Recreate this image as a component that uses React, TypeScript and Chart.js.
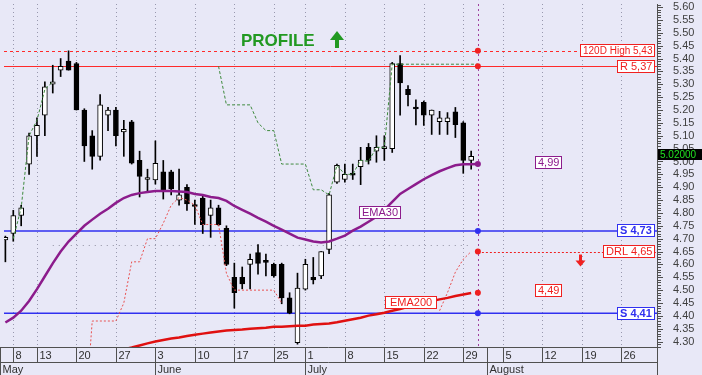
import React, { useEffect, useRef } from "react";
import { Chart, registerables } from "chart.js";
Chart.register(...registerables);

// ---------- DATA ----------
const tradingDays = [
  "05-07","05-08","05-09","05-12","05-13","05-14","05-15","05-16","05-19","05-20","05-21","05-22","05-23","05-26","05-27","05-28","05-29","05-30",
  "06-02","06-03","06-04","06-05","06-06","06-09","06-10","06-11","06-12","06-13","06-16","06-17","06-18","06-19","06-20","06-23","06-25","06-26","06-27","06-30",
  "07-01","07-02","07-03","07-04","07-07","07-08","07-09","07-10","07-11","07-14","07-15","07-16","07-17","07-18","07-21","07-22","07-23","07-24","07-25","07-28","07-29","07-30","07-31",
  "08-01","08-04","08-05","08-06","08-07","08-08","08-11","08-12","08-13","08-14","08-15","08-18","08-19","08-20","08-21","08-22","08-25","08-26","08-27","08-28","08-29"
];

const opens = [4.695,4.72,4.79,4.99,5.10,5.18,5.30,5.355,5.39,5.38,5.20,5.10,5.02,5.18,5.20,5.115,5.154,5.004,4.93,4.928,
  4.96,4.96,4.85,4.90,4.83,4.858,4.79,4.82,4.74,4.55,4.55,4.60,4.646,4.61,4.60,4.60,4.47,4.296,4.504,4.55,
  4.555,4.658,4.92,4.93,4.955,4.98,5.055,5.04,5.05,5.05,5.38,5.28,5.21,5.23,5.18,5.155,5.155,5.193,5.15,5.004];
const highs = [4.71,4.81,4.83,5.11,5.17,5.31,5.374,5.40,5.43,5.385,5.205,5.12,5.26,5.21,5.21,5.16,5.16,5.04,4.97,5.08,
  5.004,4.966,4.97,4.91,4.85,4.865,4.85,4.83,4.75,4.605,4.59,4.64,4.677,4.64,4.605,4.605,4.49,4.566,4.62,4.627,
  4.65,4.876,4.99,4.99,4.99,5.055,5.07,5.10,5.10,5.385,5.412,5.295,5.24,5.235,5.20,5.195,5.19,5.21,5.155,5.04];
const lows = [4.61,4.69,4.75,4.95,5.02,5.10,5.266,5.33,5.355,5.20,5.00,4.97,5.005,5.12,5.06,5.02,4.99,4.862,4.88,4.912,
  4.854,4.87,4.83,4.81,4.755,4.72,4.705,4.75,4.595,4.43,4.505,4.505,4.562,4.555,4.55,4.447,4.408,4.29,4.50,4.524,
  4.545,4.642,4.915,4.92,4.93,4.91,4.99,4.997,5.004,5.035,5.18,5.216,5.142,5.14,5.105,5.105,5.105,5.093,4.954,4.97];
const closes = [4.705,4.79,4.82,5.10,5.14,5.29,5.31,5.37,5.355,5.20,5.06,5.02,5.22,5.20,5.10,5.125,4.993,4.942,4.932,4.993,
  4.889,4.893,4.87,4.835,4.825,4.754,4.82,4.754,4.60,4.49,4.524,4.62,4.604,4.608,4.555,4.47,4.41,4.508,4.60,4.54,
  4.65,4.87,4.985,4.95,4.947,5.005,5.004,5.055,5.055,5.38,5.305,5.26,5.204,5.18,5.20,5.17,5.17,5.143,5.004,5.02];

const ema30 = [4.374,4.393,4.420,4.458,4.504,4.554,4.604,4.650,4.689,4.720,4.750,4.774,4.797,4.816,4.839,4.858,4.870,4.877,4.881,4.885,
  4.885,4.885,4.883,4.881,4.874,4.870,4.862,4.858,4.847,4.827,4.812,4.797,4.781,4.766,4.750,4.735,4.720,4.704,4.697,4.689,
  4.685,4.689,4.700,4.712,4.731,4.747,4.766,4.785,4.812,4.843,4.874,4.893,4.912,4.931,4.947,4.962,4.974,4.985,4.989,4.989];

const ema200 = [null,null,null,null,null,null,null,null,null,null,null,null,null,4.255,4.262,4.270,4.277,4.285,4.293,4.300,
  4.306,4.312,4.316,4.322,4.327,4.331,4.335,4.339,4.343,4.345,4.347,4.350,4.352,4.354,4.358,4.358,4.360,4.362,4.362,4.366,
  4.368,4.370,4.375,4.381,4.387,4.393,4.401,4.406,4.412,4.420,4.427,4.435,4.443,4.451,4.458,4.464,4.470,4.477,4.483,4.489];

const profileLine = [null,4.70,4.82,5.10,5.16,5.28,5.31,null,null,null,null,null,null,null,null,null,null,null,null,null,
  null,null,null,null,null,null,null,5.37,5.22,5.22,5.22,5.22,5.15,5.12,5.12,4.99,4.99,4.99,4.99,4.89,
  4.89,4.87,4.985,4.95,4.95,5.005,5.00,5.055,5.055,5.378,5.378,5.378,5.378,5.378,5.378,5.378,5.378,5.378,5.378,5.378];

const drlLine = [null,null,null,null,null,null,null,null,null,null,3.96,4.38,4.38,4.38,4.38,4.45,4.61,4.61,4.70,4.70,
  4.76,4.83,4.86,4.85,4.83,4.755,4.755,4.755,4.565,4.50,4.50,4.50,4.50,4.50,4.50,4.45,null,null,null,null,
  null,null,null,null,null,null,null,null,null,null,null,null,null,null,null,4.42,4.49,4.57,4.62,4.65];

const xTickDates = ["05-08","05-13","05-20","05-27","06-03","06-10","06-17","06-25","07-01","07-08","07-15","07-22","07-29","08-05","08-12","08-19","08-26"];
const monthNames = ["May","June","July","August"];
const monthStartDates = ["05-07","06-03","07-01","08-01"];
const yTickValues = [4.30,4.35,4.40,4.45,4.50,4.55,4.60,4.65,4.70,4.75,4.80,4.85,4.90,4.95,5.00,5.05,5.10,5.15,5.20,5.25,5.30,5.35,5.40,5.45,5.50,5.55,5.60];

const levelNames = ["120D High","R","S","S"];
const levelValues = [5.43,5.37,4.73,4.41];
const drlValue = 4.65;
const ema30Last = 4.99;
const ema200Last = 4.49;
const lastPrice = 5.02;
const oldSupport = 4.675;

// ---------- STYLE ----------
const BG = "#E8E8F7";
const RED = "#F02020";
const BLUE = "#3030F0";
const PURPLE = "#8C1C8C";
const GREEN = "#3E8A3E";
const FONT = "Liberation Sans, Arial, sans-serif";
const Y_MIN = 4.279, Y_MAX = 5.612;
const X_MIN = -0.176, X_MAX = 82.54;
const markerX = closes.length - 1 + 0.85;

const fmt = (v: number) => v.toFixed(2).replace(".", ",");

function box(ctx: CanvasRenderingContext2D, text: string, x: number, cy: number, color: string, align: "right" | "center", bold = false, size = 11, pad = 3) {
  ctx.font = `${bold ? "bold " : ""}${size}px ${FONT}`;
  const w = Math.round(ctx.measureText(text).width) + pad * 2;
  const h = 13;
  const left = align === "right" ? Math.round(x - w) : Math.round(x - w / 2);
  const top = Math.round(cy - h / 2);
  ctx.fillStyle = "#FFFFFF";
  ctx.fillRect(left, top, w, h);
  ctx.strokeStyle = color;
  ctx.lineWidth = 1;
  ctx.setLineDash([]);
  ctx.strokeRect(left + 0.5, top + 0.5, w - 1, h - 1);
  ctx.fillStyle = color;
  ctx.textAlign = "left";
  ctx.textBaseline = "middle";
  ctx.fillText(text, left + pad, top + h / 2 + 0.5);
}

const decor = {
  id: "decor",
  beforeDraw(chart: any) {
    const { ctx, chartArea: ca, scales } = chart;
    const x = scales.x;
    ctx.save();
    ctx.fillStyle = BG;
    ctx.fillRect(0, 0, chart.width, chart.height);
    ctx.strokeStyle = "#9898AE";
    ctx.lineWidth = 1;
    ctx.setLineDash([1, 3]);
    xTickDates.forEach((d) => {
      const px = Math.round(x.getPixelForValue(tradingDays.indexOf(d))) + 0.5;
      ctx.beginPath();
      ctx.moveTo(px, ca.top);
      ctx.lineTo(px, ca.bottom);
      ctx.stroke();
    });
    ctx.restore();
  },
  beforeDatasetsDraw(chart: any) {
    const { ctx, chartArea: ca, scales } = chart;
    const x = scales.x, y = scales.y;
    ctx.save();
    ctx.beginPath();
    ctx.rect(ca.left, ca.top, ca.right - ca.left, ca.bottom - ca.top);
    ctx.clip();
    // old support dotted gray
    ctx.strokeStyle = "#9090A0";
    ctx.setLineDash([1, 5]);
    ctx.lineWidth = 1;
    let py = Math.round(y.getPixelForValue(oldSupport)) + 0.5;
    ctx.beginPath();
    ctx.moveTo(x.getPixelForValue(6), py);
    ctx.lineTo(x.getPixelForValue(closes.length - 1), py);
    ctx.stroke();
    // levels
    levelValues.forEach((v, i) => {
      const isRed = i < 2;
      const p = isRed ? Math.round(y.getPixelForValue(v)) + 0.5 : y.getPixelForValue(v);
      ctx.strokeStyle = isRed ? "#FF2A2A" : BLUE;
      ctx.lineWidth = isRed ? 1 : 1.5;
      ctx.setLineDash(i === 0 ? [3, 3] : []);
      ctx.beginPath();
      ctx.moveTo(ca.left, p);
      ctx.lineTo(ca.right, p);
      ctx.stroke();
    });
    // DRL horizontal
    ctx.lineWidth = 1;
    py = Math.round(y.getPixelForValue(drlValue)) + 0.5;
    ctx.strokeStyle = RED;
    ctx.setLineDash([2, 2]);
    ctx.beginPath();
    ctx.moveTo(x.getPixelForValue(markerX), py);
    ctx.lineTo(ca.right, py);
    ctx.stroke();
    // marker vertical
    const mx = Math.round(x.getPixelForValue(markerX)) + 0.5;
    ctx.strokeStyle = "#A040A0";
    ctx.setLineDash([2, 3]);
    ctx.beginPath();
    ctx.moveTo(mx, ca.top);
    ctx.lineTo(mx, ca.bottom);
    ctx.stroke();
    ctx.restore();
  },
  afterDraw(chart: any) {
    const { ctx, chartArea: ca, scales } = chart;
    const x = scales.x, y = scales.y;
    ctx.save();
    // ---- right axis ----
    ctx.strokeStyle = "#505050";
    ctx.lineWidth = 1;
    ctx.setLineDash([]);
    ctx.beginPath();
    ctx.moveTo(ca.right + 0.5, ca.top);
    ctx.lineTo(ca.right + 0.5, ca.bottom);
    ctx.stroke();
    for (let k = Math.ceil(Y_MIN * 100); k <= Math.floor(Y_MAX * 100); k++) {
      const p = Math.round(y.getPixelForValue(k / 100)) + 0.5;
      const len = k % 5 === 0 ? 6 : 4;
      ctx.beginPath();
      ctx.moveTo(ca.right, p);
      ctx.lineTo(ca.right + len, p);
      ctx.stroke();
    }
    ctx.fillStyle = "#404040";
    ctx.font = `11px ${FONT}`;
    ctx.textAlign = "left";
    ctx.textBaseline = "middle";
    yTickValues.forEach((v) => {
      ctx.fillText(v.toFixed(2), ca.right + 16, y.getPixelForValue(v));
    });
    // last price box
    const lp = y.getPixelForValue(lastPrice);
    ctx.fillStyle = "#000000";
    ctx.fillRect(ca.right + 1, Math.round(lp - 7), chart.width - ca.right - 1, 11);
    ctx.fillStyle = "#20E020";
    ctx.font = `10px ${FONT}`;
    ctx.fillText(lastPrice.toFixed(5), ca.right + 3, lp - 1);

    // ---- bottom axis ----
    const top = ca.bottom, mid = ca.bottom + 15, bot = chart.height;
    ctx.strokeStyle = "#505050";
    ctx.beginPath();
    ctx.moveTo(0, top + 0.5); ctx.lineTo(ca.right, top + 0.5);
    ctx.moveTo(0, mid + 0.5); ctx.lineTo(ca.right, mid + 0.5);
    ctx.moveTo(0.5, top); ctx.lineTo(0.5, bot);
    ctx.moveTo(ca.right + 0.5, top); ctx.lineTo(ca.right + 0.5, bot);
    ctx.stroke();
    ctx.font = `11px ${FONT}`;
    ctx.fillStyle = "#303030";
    xTickDates.forEach((d) => {
      const px = Math.round(x.getPixelForValue(tradingDays.indexOf(d))) + 0.5;
      ctx.beginPath();
      ctx.moveTo(px, top); ctx.lineTo(px, mid);
      ctx.stroke();
      ctx.fillText(String(parseInt(d.slice(3), 10)), px + 2, (top + mid) / 2 + 1);
    });
    monthStartDates.forEach((d, mi) => {
      const i = tradingDays.indexOf(d);
      const px = i === 0 ? 0.5 : Math.round(x.getPixelForValue(i)) + 0.5;
      if (i !== 0) {
        ctx.beginPath();
        ctx.moveTo(px, top); ctx.lineTo(px, bot);
        ctx.stroke();
      }
      ctx.fillText(monthNames[mi], px + 2, (mid + bot) / 2 + 1);
    });

    // ---- labels ----
    levelValues.forEach((v, i) => {
      box(ctx, `${levelNames[i]} ${fmt(v)}`, ca.right - 2, y.getPixelForValue(v), i < 2 ? RED : BLUE, "right", i >= 2, i === 0 ? 10 : 11);
    });
    box(ctx, `DRL ${fmt(drlValue)}`, ca.right - 2, y.getPixelForValue(drlValue), RED, "right");
    box(ctx, fmt(ema30Last), x.getPixelForValue(markerX + 9), y.getPixelForValue(ema30Last) - 2, PURPLE, "center");
    box(ctx, fmt(ema200Last), x.getPixelForValue(markerX + 9), y.getPixelForValue(ema200Last) - 2, RED, "center");
    box(ctx, "EMA30", x.getPixelForValue(47.4), y.getPixelForValue(4.80), PURPLE, "center");
    box(ctx, "EMA200", x.getPixelForValue(51.4), y.getPixelForValue(4.45), RED, "center", false, 11, 5);

    // down arrow
    const ax = x.getPixelForValue(markerX + 13);
    const ay = y.getPixelForValue(drlValue) + 3;
    ctx.fillStyle = RED;
    ctx.fillRect(Math.round(ax - 1.5), ay, 3, 7);
    ctx.beginPath();
    ctx.moveTo(ax - 5, ay + 6); ctx.lineTo(ax + 5, ay + 6); ctx.lineTo(ax, ay + 12); ctx.closePath();
    ctx.fill();

    // PROFILE
    ctx.fillStyle = "#229922";
    ctx.font = `bold 17px ${FONT}`;
    ctx.textBaseline = "alphabetic";
    ctx.fillText("PROFILE", ca.left + 237, ca.top + 42);
    const ux = ca.left + 333;
    ctx.fillRect(ux - 2, ca.top + 34, 4, 10);
    ctx.beginPath();
    ctx.moveTo(ux - 7, ca.top + 36); ctx.lineTo(ux + 7, ca.top + 36); ctx.lineTo(ux, ca.top + 27); ctx.closePath();
    ctx.fill();
    ctx.restore();
  },
};

export default function App() {
  const ref = useRef<HTMLCanvasElement>(null);
  useEffect(() => {
    const canvas = ref.current!;
    const idx = closes.map((_, i) => i);
    const chart = new Chart(canvas, {
      type: "line",
      data: {
        datasets: [
          {
            type: "bar",
            data: idx.map((i) => ({ x: i, y: [lows[i], highs[i]] })) as any,
            backgroundColor: "#000000",
            borderWidth: 0,
            barThickness: 1,
            grouped: false,
            order: 10,
          } as any,
          {
            type: "bar",
            data: idx.map((i) => ({ x: i, y: [opens[i], closes[i]] })) as any,
            backgroundColor: idx.map((i) => (closes[i] >= opens[i] ? "#FFFFFF" : "#000000")),
            borderColor: "#000000",
            borderWidth: 1,
            borderSkipped: false,
            barThickness: 5,
            minBarLength: 2,
            grouped: false,
            order: 9,
          } as any,
          {
            data: drlLine.map((v, i) => ({ x: i, y: v })) as any,
            borderColor: "#E85050",
            borderWidth: 1,
            borderDash: [2, 2],
            pointRadius: 0,
            spanGaps: false,
            order: 6,
          },
          {
            data: profileLine.map((v, i) => ({ x: i, y: v })).concat([{ x: markerX, y: 5.378 }]) as any,
            borderColor: GREEN,
            borderWidth: 1,
            borderDash: [3, 2],
            pointRadius: 0,
            spanGaps: false,
            order: 6,
          },
          {
            data: ema200.map((v, i) => ({ x: i, y: v })) as any,
            borderColor: "#E01010",
            borderWidth: 2.5,
            pointRadius: 0,
            order: 5,
          },
          {
            data: ema30.map((v, i) => ({ x: i, y: v })).concat([{ x: markerX, y: ema30Last }]) as any,
            borderColor: PURPLE,
            borderWidth: 2.5,
            pointRadius: 0,
            order: 5,
          },
          {
            data: [levelValues[0], levelValues[1], ema30Last, levelValues[2], drlValue, ema200Last, levelValues[3]].map((v) => ({ x: markerX, y: v })) as any,
            showLine: false,
            pointRadius: 3,
            pointBorderWidth: 0,
            pointBackgroundColor: [RED, RED, PURPLE, BLUE, RED, RED, BLUE],
            order: 1,
          },
        ],
      },
      options: {
        responsive: false,
        animation: false,
        events: [],
        layout: { padding: 0 },
        plugins: { legend: { display: false }, tooltip: { enabled: false } },
        scales: {
          x: {
            type: "linear",
            min: X_MIN,
            max: X_MAX,
            offset: false,
            grid: { display: false },
            border: { display: false },
            ticks: { display: false },
            afterFit: (s: any) => { s.height = 28; },
          },
          y: {
            type: "linear",
            position: "right",
            min: Y_MIN,
            max: Y_MAX,
            grid: { display: false },
            border: { display: false },
            ticks: { display: false },
            afterFit: (s: any) => { s.width = 45; },
          },
        },
      },
      plugins: [decor],
    } as any);
    return () => chart.destroy();
  }, []);
  return (
    <div style={{ position: "absolute", left: 0, top: 0, width: 702, height: 375 }}>
      <canvas ref={ref} width={702} height={375} style={{ display: "block", width: 702, height: 375 }} />
    </div>
  );
}
